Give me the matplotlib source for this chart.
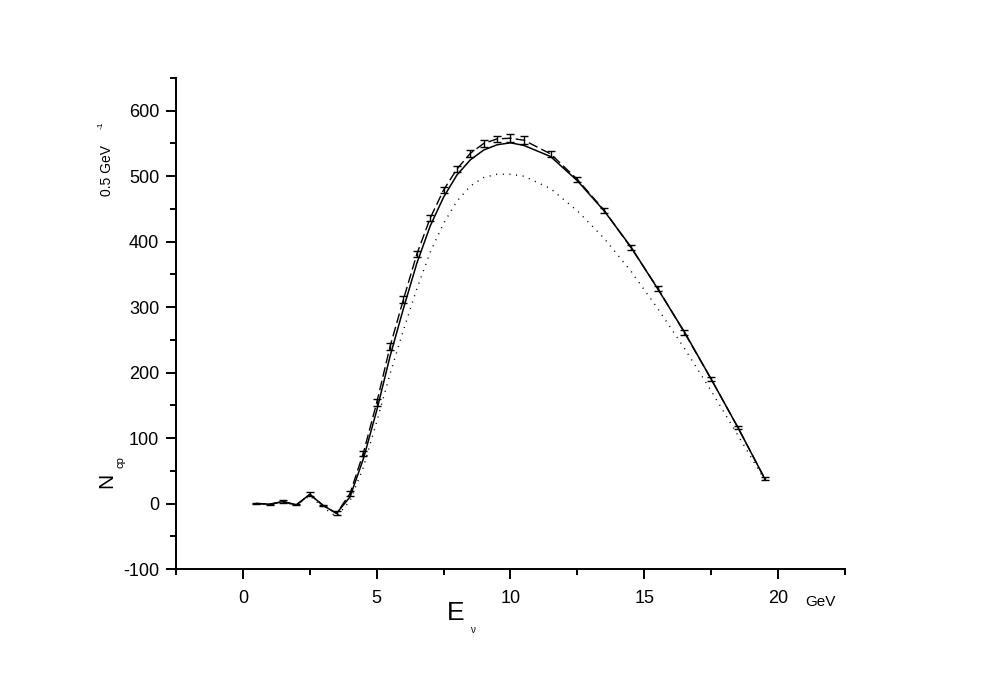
import matplotlib
matplotlib.use("Agg")
import matplotlib.pyplot as plt
from matplotlib.ticker import MultipleLocator

plt.rcParams['font.family'] = ['Liberation Sans', 'DejaVu Sans']
plt.rcParams['axes.unicode_minus'] = False

# energies (GeV)
energy = [0.5, 1.0, 1.5, 2.0, 2.5, 3.0, 3.5, 4.0, 4.5, 5.0, 5.5, 6.0, 6.5, 7.0,
          7.5, 8.0, 8.5, 9.0, 9.5, 10.0, 10.5, 11.5, 12.5, 13.5, 14.5, 15.5,
          16.5, 17.5, 18.5, 19.5]
# measured-like points (dashed line with error bars)
data_vals = [0, -1, 3, -2, 14, -3, -15, 15, 77, 154, 240, 312, 381, 436,
             479, 511, 535, 550, 557, 558, 555, 534, 495, 448, 391, 329,
             261, 190, 116, 38]
data_err = [1, 1, 2, 1, 3, 1, 3, 4, 4, 5, 5, 5, 5, 5,
            5, 5, 5, 5, 5, 6, 6, 4, 4, 4, 4, 4,
            4, 3, 2, 2]
# solid model curve
solid_vals = [0, -1, 3, -2, 14, -3, -15, 10, 68, 142, 225, 298, 367, 424,
              468, 502, 525, 540, 548, 551, 547, 530, 493, 447, 392, 328,
              262, 190, 116, 38]
# dotted model curve
dotted_vals = [0, -1, 2, -3, 12, -6, -20, 4, 55, 125, 198, 265, 328, 384,
               428, 462, 485, 498, 503, 503, 500, 481, 447, 405, 355, 298,
               237, 172, 104, 36]

fig = plt.figure(figsize=(9.81, 6.83), dpi=100)
ax = fig.add_axes([176/981, 1-569/683, (845-176)/981, (569-78)/683])

ax.plot(energy, dotted_vals, color='black', lw=1.0, linestyle=(0, (0.8, 4)))
ax.plot(energy, solid_vals, color='black', lw=1.1, linestyle='-')
ax.plot(energy, data_vals, color='black', lw=1.0, linestyle=(0, (7, 3)))
ax.errorbar(energy, data_vals, yerr=data_err, fmt='none', ecolor='black',
            elinewidth=1.0, capsize=3, capthick=1.0)

ax.set_xlim(-2.5, 22.5)
ax.set_ylim(-100, 650)
ax.xaxis.set_minor_locator(MultipleLocator(2.5))
ax.yaxis.set_minor_locator(MultipleLocator(50))
ax.set_yticks([-100, 0, 100, 200, 300, 400, 500, 600])
ax.set_xticks([0, 5, 10, 15, 20])

for s in ['top', 'right']:
    ax.spines[s].set_visible(False)
for s in ['left', 'bottom']:
    ax.spines[s].set_linewidth(1.4)

ax.tick_params(which='major', direction='out', length=7, width=1.4, labelsize=13)
ax.tick_params(which='minor', direction='out', length=4, width=1.4)
ax.tick_params(axis='x', which='major', pad=8)
ax.tick_params(axis='y', which='major', pad=5)

# axis labels
fig.text(107/981, 1-480/683, 'N', rotation=90, fontsize=15, ha='center', va='center')
fig.text(121/981, 1-462/683, 'cp', rotation=90, fontsize=8, ha='center', va='center')
fig.text(107/981, 1-170/683, '0.5 GeV', rotation=90, fontsize=10, ha='center', va='center')
fig.text(101/981, 1-125/683, '-1', rotation=90, fontsize=6, ha='center', va='center')
fig.text(456/981, 1-613/683, 'E', fontsize=19, ha='center', va='center')
fig.text(472/981, 1-630/683, 'ν', fontsize=7, ha='center', va='center')
fig.text(820/981, 1-602/683, 'GeV', fontsize=11, ha='center', va='center')

fig.savefig('out.png', dpi=100)
